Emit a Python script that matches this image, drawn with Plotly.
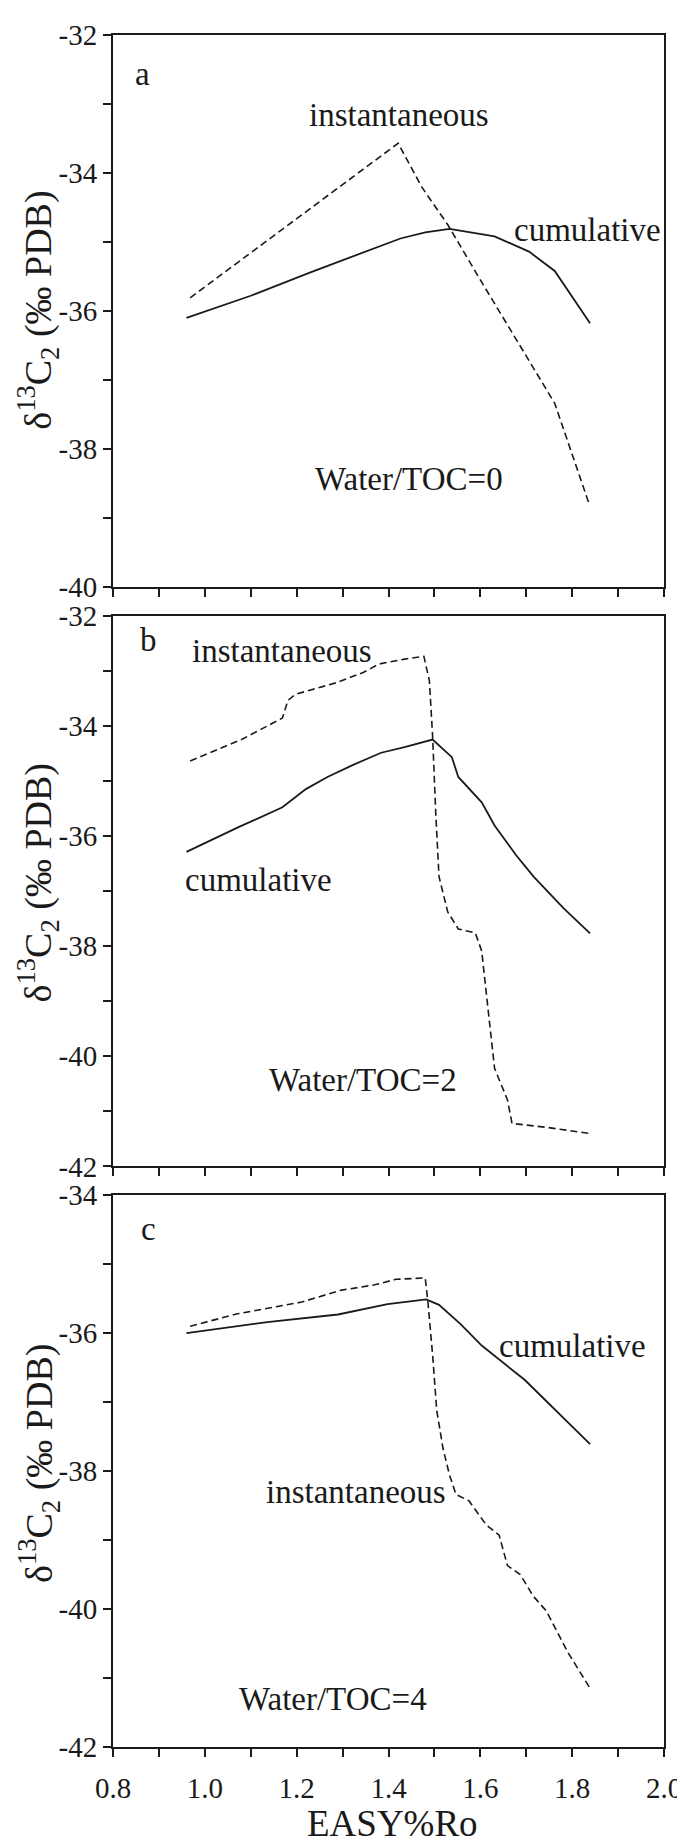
import plotly.graph_objects as go

# ---------------- data (EASY%Ro vs delta13C2) ----------------
# panel a : Water/TOC = 0
ro_a_inst = [0.968, 1.421, 1.473, 1.529, 1.600, 1.700, 1.762, 1.837]
d13_a_inst = [-35.81, -33.57, -34.21, -34.75, -35.55, -36.65, -37.34, -38.80]
ro_a_cum = [0.960, 1.100, 1.230, 1.351, 1.426, 1.480, 1.533, 1.631, 1.706, 1.762, 1.839]
d13_a_cum = [-36.10, -35.78, -35.44, -35.14, -34.95, -34.86, -34.81, -34.92, -35.14, -35.42, -36.18]

# panel b : Water/TOC = 2
ro_b_inst = [0.968, 1.080, 1.169, 1.181, 1.197, 1.286, 1.346, 1.379, 1.435, 1.477,
             1.489, 1.496, 1.503, 1.510, 1.529, 1.552, 1.589, 1.603, 1.617, 1.631,
             1.659, 1.669, 1.744, 1.837]
d13_b_inst = [-34.64, -34.25, -33.86, -33.54, -33.43, -33.22, -33.03, -32.88, -32.79, -32.74,
              -33.18, -34.18, -35.60, -36.74, -37.38, -37.69, -37.76, -38.09, -39.16, -40.22,
              -40.79, -41.22, -41.29, -41.40]
ro_b_cum = [0.960, 1.071, 1.169, 1.220, 1.267, 1.323, 1.384, 1.435, 1.496, 1.538,
            1.552, 1.603, 1.631, 1.678, 1.716, 1.781, 1.839]
d13_b_cum = [-36.29, -35.85, -35.48, -35.15, -34.93, -34.71, -34.49, -34.39, -34.25, -34.57,
             -34.93, -35.39, -35.81, -36.35, -36.74, -37.31, -37.77]

# panel c : Water/TOC = 4
ro_c_inst = [0.968, 1.071, 1.211, 1.295, 1.370, 1.416, 1.480, 1.486, 1.496, 1.505,
             1.519, 1.533, 1.547, 1.575, 1.613, 1.641, 1.659, 1.687, 1.715, 1.744,
             1.790, 1.839]
d13_c_inst = [-35.90, -35.72, -35.55, -35.38, -35.30, -35.22, -35.20, -35.56, -36.31, -37.12,
              -37.68, -38.06, -38.34, -38.43, -38.78, -38.93, -39.37, -39.50, -39.81, -40.03,
              -40.62, -41.15]
ro_c_cum = [0.960, 1.136, 1.290, 1.398, 1.482, 1.510, 1.557, 1.603, 1.697, 1.839]
d13_c_cum = [-36.00, -35.84, -35.73, -35.58, -35.51, -35.59, -35.87, -36.18, -36.68, -37.61]

# axes / ticks
x_range = [0.8, 2.0]
x_major_vals = [0.8, 1.0, 1.2, 1.4, 1.6, 1.8, 2.0]
x_major_labels = ["0.8", "1.0", "1.2", "1.4", "1.6", "1.8", "2.0"]
x_minor_vals = [0.9, 1.1, 1.3, 1.5, 1.7, 1.9]
y_range_a = [-40, -32]
y_range_b = [-42, -32]
y_range_c = [-42, -34]

# texts
panel_letters = ["a", "b", "c"]
series_names = ["instantaneous", "cumulative"]
water_labels = ["Water/TOC=0", "Water/TOC=2", "Water/TOC=4"]
x_title = "EASY%Ro"
y_title = "δ<sup>13</sup>C<sub>2</sub> (‰ PDB)"

# ---------------- layout geometry (pixels) ----------------
W, H = 685, 1842
L, R = 105, 666
TOP, BOT = 11, 1739
panels_px = [(11, 568), (597, 1153), (1182, 1739)]
PH = BOT - TOP


def py2paper(py):
    return (BOT - py) / PH


def px2paper(px):
    return (px - L) / (R - L)


FONT = "Liberation Serif, Times New Roman, DejaVu Serif, serif"
INK = "#1a1a1a"

fig = go.Figure()

series = [
    (ro_a_inst, d13_a_inst, ro_a_cum, d13_a_cum),
    (ro_b_inst, d13_b_inst, ro_b_cum, d13_b_cum),
    (ro_c_inst, d13_c_inst, ro_c_cum, d13_c_cum),
]
for i, (xi, yi, xc, yc) in enumerate(series):
    ax = "" if i == 0 else str(i + 1)
    fig.add_trace(go.Scatter(x=xi, y=yi, mode="lines", name=series_names[0],
                             line=dict(color=INK, width=1.6, dash="7px,4px"),
                             xaxis="x" + ax, yaxis="y" + ax, showlegend=False))
    fig.add_trace(go.Scatter(x=xc, y=yc, mode="lines", name=series_names[1],
                             line=dict(color=INK, width=1.8),
                             xaxis="x" + ax, yaxis="y" + ax, showlegend=False))

y_ranges = [y_range_a, y_range_b, y_range_c]
layout = dict(
    width=W, height=H,
    margin=dict(l=L, r=W - R, t=TOP, b=H - BOT),
    paper_bgcolor="white", plot_bgcolor="white",
    font=dict(family=FONT, size=29, color=INK),
    showlegend=False,
)
minor_style = dict(ticks="outside", ticklen=8, tickwidth=1.5, tickcolor=INK,
                   tickmode="array", showgrid=False)
for i, (pt, pb) in enumerate(panels_px):
    ax = "" if i == 0 else str(i + 1)
    lo, hi = y_ranges[i]
    y_major = list(range(lo, hi + 1, 2))
    y_minor = list(range(lo + 1, hi, 2))
    common = dict(showline=True, mirror=True, linecolor=INK, linewidth=2,
                  showgrid=False, zeroline=False, ticks="outside", ticklen=8,
                  tickwidth=1.5, tickcolor=INK,
                  tickfont=dict(family=FONT, size=29, color=INK))
    layout["xaxis" + ax] = dict(common, range=x_range, domain=[0, 1],
                                anchor="y" + ax, tickmode="array",
                                tickvals=x_major_vals, ticktext=x_major_labels,
                                showticklabels=(i == 2), ticklabelstandoff=6,
                                minor=dict(minor_style, tickvals=x_minor_vals))
    layout["yaxis" + ax] = dict(common, range=[lo, hi],
                                domain=[py2paper(pb), py2paper(pt)],
                                anchor="x" + ax, tickmode="array",
                                tickvals=y_major, ticktext=[str(v) for v in y_major],
                                minor=dict(minor_style, tickvals=y_minor))

fig.update_layout(**layout)

ann_font = dict(family=FONT, size=33, color=INK)
# in-panel labels: (panel index, text, x, y) in data coordinates
labels = [
    (0, panel_letters[0], 0.864, -32.56),
    (0, series_names[0], 1.422, -33.16),
    (0, series_names[1], 1.833, -34.82),
    (0, water_labels[0], 1.444, -38.43),
    (1, panel_letters[1], 0.877, -32.45),
    (1, series_names[0], 1.168, -32.65),
    (1, series_names[1], 1.117, -36.80),
    (1, water_labels[1], 1.345, -40.44),
    (2, panel_letters[2], 0.877, -34.49),
    (2, series_names[1], 1.801, -36.18),
    (2, series_names[0], 1.330, -38.31),
    (2, water_labels[2], 1.279, -41.30),
]
for i, txt, x, y in labels:
    ax = "" if i == 0 else str(i + 1)
    fig.add_annotation(text=txt, x=x, y=y, xref="x" + ax, yref="y" + ax,
                       showarrow=False, font=ann_font,
                       xanchor="center", yanchor="middle")

for cy in [289, 867, 1453]:
    fig.add_annotation(text=y_title, x=px2paper(29), y=py2paper(cy),
                       xref="paper", yref="paper", showarrow=False,
                       textangle=-90, font=dict(family=FONT, size=38, color=INK),
                       xanchor="center", yanchor="middle")

fig.add_annotation(text=x_title, x=px2paper(390), y=py2paper(1816),
                   xref="paper", yref="paper", showarrow=False,
                   font=dict(family=FONT, size=37, color=INK),
                   xanchor="center", yanchor="middle")

fig.write_html("out.html")
